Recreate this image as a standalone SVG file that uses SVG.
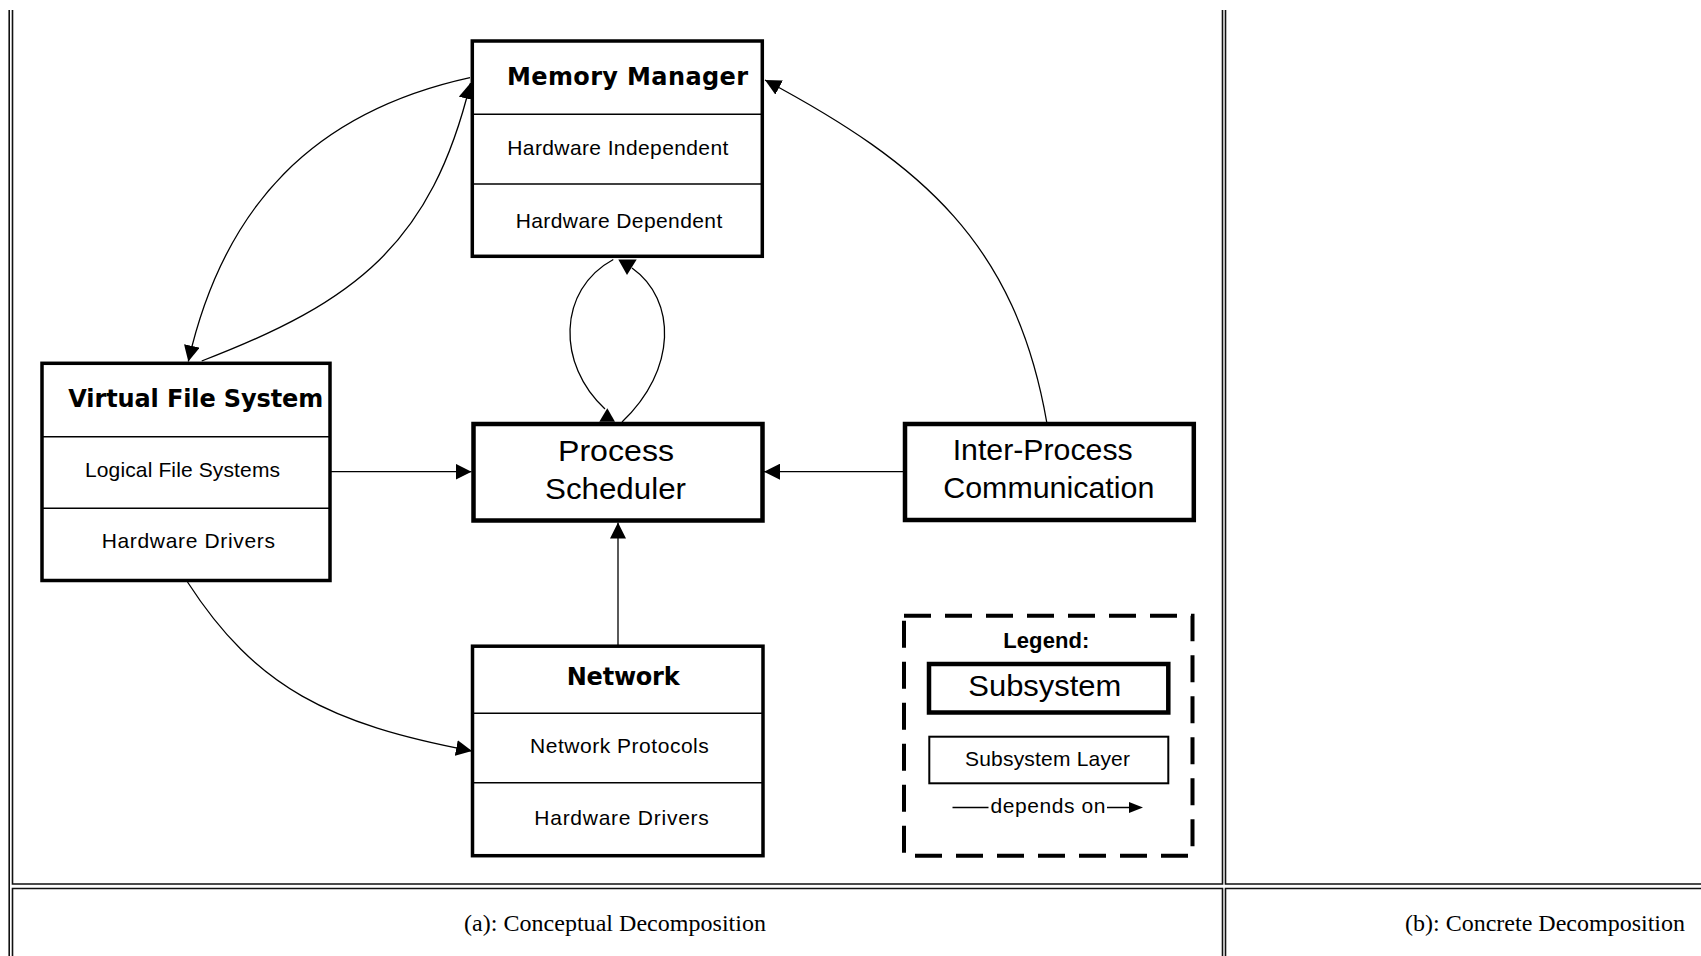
<svg xmlns="http://www.w3.org/2000/svg" width="1701" height="956" viewBox="0 0 1701 956">
  <style>
    .tbl { fill: none; stroke: #111; stroke-width: 1.6; }
    .box { fill: #fff; stroke: #000; stroke-width: 3.5; }
    .sub { fill: #fff; stroke: #000; stroke-width: 4.5; }
    .div { stroke: #000; stroke-width: 1.5; }
    .edge { fill: none; stroke: #000; stroke-width: 1.3; }
    .head { fill: #000; }
    .hdr { font-family: "DejaVu Sans", "Liberation Sans", sans-serif; font-weight: bold; font-size: 24px; fill: #000; }
    .lyr { font-family: "Liberation Sans", Arial, sans-serif; font-size: 21px; fill: #000; }
    .big { font-family: "Liberation Sans", Arial, sans-serif; font-size: 30px; fill: #000; }
    .leg { font-family: "Liberation Sans", Arial, sans-serif; font-weight: bold; font-size: 22px; fill: #000; }
    .cap { font-family: "Liberation Serif", "Times New Roman", serif; font-size: 24px; fill: #000; }
  </style>
  <defs>
    <marker id="arrow" viewBox="0 0 16 16" refX="16" refY="8" markerWidth="16" markerHeight="16" markerUnits="userSpaceOnUse" orient="auto">
      <path d="M0,0 L16,8 L0,16 z" fill="#000"/>
    </marker>
  </defs>

  <rect x="0" y="0" width="1701" height="956" fill="#fff"/>

  <!-- table frame around the two panels -->
  <g id="table-frame">
    <path class="tbl" d="M9.2,10 V956"/>
    <path class="tbl" d="M12.5,10 V884 H1222.5 V10"/>
    <path class="tbl" d="M1701,884 H1225.5 V10"/>
    <path class="tbl" d="M12.5,956 V888.5 H1222.5 V956"/>
    <path class="tbl" d="M1701,888.5 H1225.5 V956"/>
  </g>

  <!-- dependency connectors -->
  <g id="connectors">
    <path class="edge" d="M331,471.7 H471.5" marker-end="url(#arrow)"/>
    <path class="edge" d="M903,471.7 H764" marker-end="url(#arrow)"/>
    <path class="edge" d="M618,645 V522.5" marker-end="url(#arrow)"/>
    <path class="edge" d="M187.5,582 C256,688 330,724 472,751" marker-end="url(#arrow)"/>
    <path class="edge" d="M201.7,361 C356.1,301.8 431.4,243.4 470.5,83" marker-end="url(#arrow)"/>
    <path class="edge" d="M470,77.7 C313.7,111.9 223.7,205.7 188.3,361.5" marker-end="url(#arrow)"/>
    <path class="edge" d="M1046.7,422 C1015.7,244.4 923.4,164.6 765,80" marker-end="url(#arrow)"/>
    <path class="edge" d="M613.3,259.5 C557,290 557,365 605,409"/>
    <path class="edge" d="M632,268 C677,300 677,370 622,422"/>
    <polygon class="head" points="618.3,259.5 636.7,259.5 627,275"/>
    <polygon class="head" points="599.3,421.7 615,421.7 607.3,408.3"/>
  </g>

  <g id="memory-manager">
    <rect class="box" x="472.3" y="41" width="290" height="215.3"/>
    <line class="div" x1="472.3" y1="114.3" x2="762.3" y2="114.3"/>
    <line class="div" x1="472.3" y1="184" x2="762.3" y2="184"/>
    <text class="hdr" x="507" y="84.5" textLength="241">Memory Manager</text>
    <text class="lyr" x="507.3" y="155" textLength="221">Hardware Independent</text>
    <text class="lyr" x="515.7" y="227.7" textLength="206.6">Hardware Dependent</text>
  </g>

  <g id="virtual-file-system">
    <rect class="box" x="42" y="363.3" width="288" height="217.2"/>
    <line class="div" x1="42" y1="436.7" x2="330" y2="436.7"/>
    <line class="div" x1="42" y1="508.3" x2="330" y2="508.3"/>
    <text class="hdr" x="68.3" y="406.7" textLength="255">Virtual File System</text>
    <text class="lyr" x="85" y="476.7" textLength="195">Logical File Systems</text>
    <text class="lyr" x="101.7" y="548.3" textLength="173.3">Hardware Drivers</text>
  </g>

  <g id="process-scheduler">
    <rect class="sub" x="473.5" y="424" width="289" height="96.5"/>
    <text class="big" x="558" y="460.5" textLength="116" lengthAdjust="spacingAndGlyphs">Process</text>
    <text class="big" x="545" y="499" textLength="141" lengthAdjust="spacingAndGlyphs">Scheduler</text>
  </g>

  <g id="inter-process-communication">
    <rect class="sub" x="905" y="424" width="288.8" height="96"/>
    <text class="big" x="952.7" y="459.5" textLength="180" lengthAdjust="spacingAndGlyphs">Inter-Process</text>
    <text class="big" x="943.3" y="498" textLength="211" lengthAdjust="spacingAndGlyphs">Communication</text>
  </g>

  <g id="network">
    <rect class="box" x="472.5" y="646.2" width="290.5" height="209.5"/>
    <line class="div" x1="472.5" y1="713.3" x2="763" y2="713.3"/>
    <line class="div" x1="472.5" y1="782.7" x2="763" y2="782.7"/>
    <text class="hdr" x="566.7" y="685" textLength="113">Network</text>
    <text class="lyr" x="530" y="753.3" textLength="178.8">Network Protocols</text>
    <text class="lyr" x="534.3" y="825" textLength="174.5">Hardware Drivers</text>
  </g>

  <g id="legend">
    <rect x="904" y="615.8" width="288.5" height="240" fill="none" stroke="#000" stroke-width="4" stroke-dasharray="27 14"/>
    <text class="leg" x="1003.3" y="648" textLength="86">Legend:</text>
    <rect class="sub" x="929" y="664" width="239.3" height="48.5"/>
    <text class="big" x="968.3" y="695.5" textLength="153" lengthAdjust="spacingAndGlyphs">Subsystem</text>
    <rect x="929.3" y="736.7" width="239" height="46.6" fill="#fff" stroke="#000" stroke-width="2"/>
    <text class="lyr" x="965" y="766" textLength="165">Subsystem Layer</text>
    <line x1="952.5" y1="807.5" x2="988.5" y2="807.5" stroke="#000" stroke-width="1.5"/>
    <text class="lyr" x="990.5" y="813" textLength="115">depends on</text>
    <line x1="1107" y1="807.5" x2="1131" y2="807.5" stroke="#000" stroke-width="1.5"/>
    <polygon class="head" points="1129,802 1143,807.5 1129,813"/>
  </g>

  <g id="captions">
    <text class="cap" x="464" y="931" textLength="302">(a): Conceptual Decomposition</text>
    <text class="cap" x="1405" y="931" textLength="280">(b): Concrete Decomposition</text>
  </g>
</svg>
